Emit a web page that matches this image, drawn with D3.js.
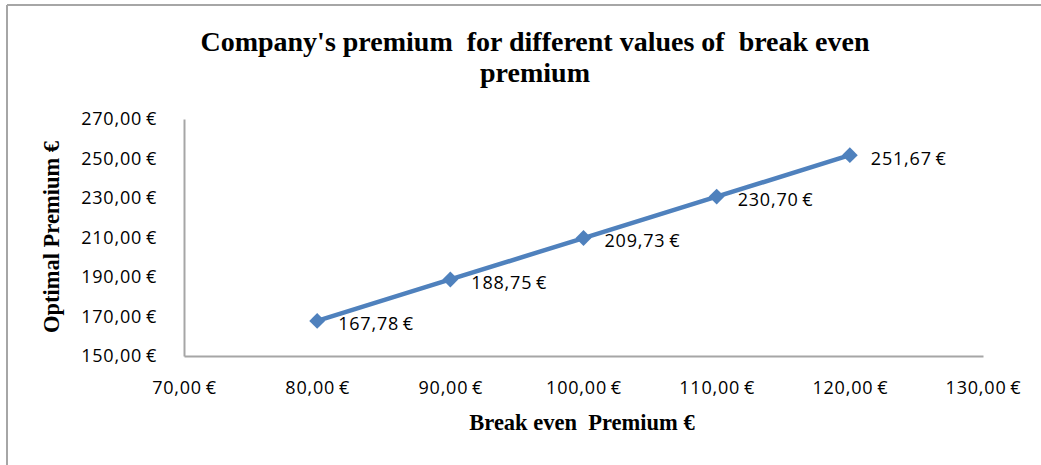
<!DOCTYPE html>
<html>
<head>
<meta charset="utf-8">
<script src="https://cdn.jsdelivr.net/npm/d3@7"></script>
<style>
  body { margin: 0; background: #fff; }
  svg { display: block; }
</style>
</head>
<body>
<div id="chart"></div>
<script>
// Data
const breakEven = [80, 90, 100, 110, 120];
const optimal = [167.78, 188.75, 209.73, 230.70, 251.67];
const xTicks = [70, 80, 90, 100, 110, 120, 130];
const yTicks = [150, 170, 190, 210, 230, 250, 270];
const titleLines = ["Company's premium  for different values of  break even", "premium"];

const width = 1041, height = 465;
const margin = { left: 184, right: 58, top: 119, bottom: 109 };

// thin space before the euro sign, like the reference
const fmt = v => v.toFixed(2).replace('.', ',') + '\u2009€';
const sans = '"Open Sans", "Liberation Sans", sans-serif';
const serif = '"Liberation Serif", "Times New Roman", serif';

const svg = d3.select('#chart').append('svg')
    .attr('width', width)
    .attr('height', height);

// Chart frame (only top and left edges visible in reference)
svg.append('line').attr('x1', 7).attr('x2', width).attr('y1', 5).attr('y2', 5)
    .attr('stroke', '#a6a6a6').attr('stroke-width', 2);
svg.append('line').attr('x1', 7).attr('x2', 7).attr('y1', 5).attr('y2', height)
    .attr('stroke', '#a6a6a6').attr('stroke-width', 2);

const x = d3.scaleLinear().domain([70, 130]).range([margin.left, width - margin.right]);
const y = d3.scaleLinear().domain([150, 270]).range([height - margin.bottom, margin.top]);

// Title
svg.append('text')
    .attr('x', 535).attr('y', 51)
    .attr('text-anchor', 'middle')
    .attr('font-family', serif)
    .attr('font-weight', 'bold')
    .attr('font-size', '28px')
    .attr('fill', '#000')
    .style('white-space', 'pre')
    .selectAll('tspan')
    .data(titleLines)
    .join('tspan')
    .attr('x', 535)
    .attr('dy', (d, i) => i === 0 ? 0 : 31)
    .text(d => d);

// Axes
const xAxis = svg.append('g')
    .attr('transform', `translate(0,${y(150)})`)
    .call(d3.axisBottom(x).tickValues(xTicks).tickSize(0).tickPadding(25).tickFormat(fmt));
const yAxis = svg.append('g')
    .attr('transform', `translate(${x(70)},0)`)
    .call(d3.axisLeft(y).tickValues(yTicks).tickSize(0).tickPadding(27).tickFormat(fmt));

[xAxis, yAxis].forEach(ax => {
    ax.select('.domain').attr('stroke', '#a6a6a6').attr('stroke-width', 2);
    ax.selectAll('text')
        .attr('font-family', sans)
        .attr('font-size', '18px')
        .attr('letter-spacing', '0.8px')
        .attr('fill', '#000');
});

// Axis titles
svg.append('text')
    .attr('x', 582).attr('y', 430)
    .attr('text-anchor', 'middle')
    .attr('font-family', serif)
    .attr('font-weight', 'bold')
    .attr('font-size', '22.5px')
    .style('white-space', 'pre')
    .text('Break even  Premium €');

svg.append('text')
    .attr('transform', 'translate(59,237) rotate(-90)')
    .attr('text-anchor', 'middle')
    .attr('font-family', serif)
    .attr('font-weight', 'bold')
    .attr('font-size', '22.5px')
    .text('Optimal Premium €');

// Series
const pts = breakEven.map((d, i) => ({ x: d, y: optimal[i] }));
const line = d3.line().x(d => x(d.x)).y(d => y(d.y));

svg.append('path')
    .datum(pts)
    .attr('d', line)
    .attr('fill', 'none')
    .attr('stroke', '#4f81bd')
    .attr('stroke-width', 4.5);

svg.selectAll('.marker')
    .data(pts)
    .join('path')
    .attr('class', 'marker')
    .attr('transform', d => `translate(${x(d.x)},${y(d.y)})`)
    .attr('d', d3.symbol().type(d3.symbolDiamond2).size(160))
    .attr('fill', '#4f81bd');

svg.selectAll('.label')
    .data(pts)
    .join('text')
    .attr('class', 'label')
    .attr('x', d => x(d.x) + 21)
    .attr('y', d => y(d.y) + 3)
    .attr('dy', '0.35em')
    .attr('font-family', sans)
    .attr('font-size', '18px')
    .attr('letter-spacing', '0.8px')
    .attr('fill', '#000')
    .text(d => fmt(d.y));
</script>
</body>
</html>
